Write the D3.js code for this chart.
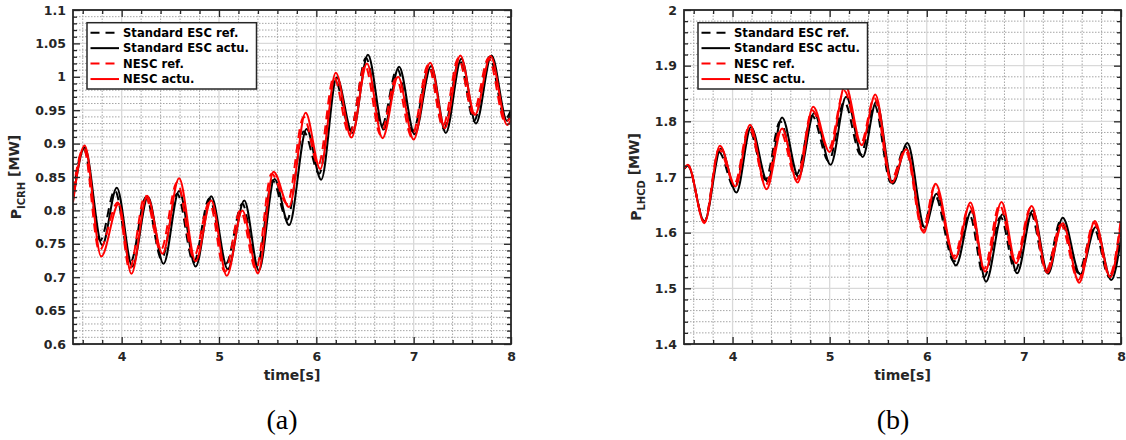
<!DOCTYPE html>
<html><head><meta charset="utf-8">
<script src="https://cdn.jsdelivr.net/npm/d3@7"></script>
<style>body{margin:0;background:#fff} svg{display:block}</style>
</head><body><svg id="c" width="1126" height="440"></svg>
<script>
// ---------- data ----------
const seriesNames = ["Standard ESC ref.", "Standard ESC actu.", "NESC ref.", "NESC actu."];
const xTicks = [4, 5, 6, 7, 8];

// (a) P_ICRH
const icrhYTicks = [0.6, 0.65, 0.7, 0.75, 0.8, 0.85, 0.9, 0.95, 1, 1.05, 1.1];
const icrhStdRefT = [3.5,3.61,3.78,3.93,4.09,4.25,4.41,4.57,4.74,4.9,5.07,5.24,5.39,5.55,5.70,5.87,6.03,6.19,6.35,6.51,6.67,6.83,6.99,7.16,7.31,7.47,7.62,7.78,7.94,8.0];
const icrhStdRefV = [0.825,0.892,0.755,0.83,0.722,0.82,0.727,0.825,0.722,0.818,0.72,0.81,0.717,0.845,0.786,0.918,0.855,0.996,0.92,1.028,0.926,1.012,0.918,1.014,0.922,1.025,0.934,1.03,0.937,0.95];
const icrhStdActT = [3.5,3.62,3.80,3.95,4.11,4.27,4.43,4.59,4.76,4.92,5.09,5.26,5.41,5.57,5.72,5.90,6.05,6.21,6.37,6.53,6.69,6.85,7.01,7.18,7.33,7.49,7.64,7.80,7.96,8.0];
const icrhStdActV = [0.815,0.894,0.748,0.834,0.716,0.82,0.72,0.829,0.716,0.821,0.712,0.815,0.71,0.847,0.778,0.922,0.846,0.999,0.916,1.033,0.921,1.015,0.914,1.016,0.916,1.027,0.93,1.032,0.934,0.945];
const icrhNescRefT = [3.5,3.61,3.77,3.96,4.08,4.24,4.40,4.57,4.74,4.9,5.06,5.22,5.38,5.54,5.70,5.87,6.02,6.18,6.34,6.50,6.66,6.82,6.98,7.15,7.30,7.46,7.61,7.77,7.94,8.0];
const icrhNescRefV = [0.83,0.893,0.74,0.812,0.712,0.822,0.74,0.842,0.73,0.812,0.708,0.8,0.712,0.855,0.81,0.94,0.868,1.0,0.913,1.017,0.913,0.998,0.91,1.018,0.926,1.028,0.945,1.028,0.932,0.94];
const icrhNescActT = [3.5,3.62,3.79,3.97,4.10,4.26,4.42,4.59,4.76,4.92,5.08,5.24,5.40,5.56,5.72,5.89,6.04,6.20,6.36,6.52,6.68,6.84,7.00,7.17,7.32,7.48,7.63,7.79,7.96,8.0];
const icrhNescActV = [0.812,0.897,0.731,0.81,0.705,0.822,0.735,0.848,0.724,0.815,0.702,0.80,0.706,0.858,0.805,0.946,0.862,1.006,0.909,1.02,0.908,1.0,0.906,1.021,0.923,1.032,0.943,1.031,0.928,0.935];

// (b) P_LHCD
const lhcdYTicks = [1.4, 1.5, 1.6, 1.7, 1.8, 1.9, 2];
const lhcdStdRefT = [3.5,3.54,3.71,3.86,4.02,4.17,4.34,4.49,4.66,4.82,4.99,5.15,5.32,5.46,5.63,5.78,5.96,6.08,6.28,6.44,6.59,6.76,6.91,7.07,7.23,7.38,7.56,7.72,7.88,8.0];
const lhcdStdRefV = [1.714,1.72,1.62,1.745,1.68,1.785,1.695,1.80,1.705,1.81,1.728,1.835,1.74,1.83,1.69,1.755,1.612,1.668,1.548,1.632,1.52,1.628,1.532,1.635,1.53,1.622,1.528,1.608,1.52,1.6];
const lhcdStdActT = [3.5,3.54,3.71,3.88,4.04,4.19,4.36,4.51,4.68,4.84,5.01,5.17,5.34,5.48,5.65,5.80,5.98,6.10,6.30,6.46,6.61,6.78,6.93,7.09,7.25,7.40,7.58,7.74,7.90,8.0];
const lhcdStdActV = [1.715,1.72,1.62,1.751,1.672,1.79,1.692,1.807,1.70,1.815,1.722,1.844,1.736,1.835,1.688,1.761,1.609,1.67,1.541,1.639,1.512,1.633,1.527,1.64,1.526,1.627,1.525,1.61,1.515,1.59];
const lhcdNescRefT = [3.5,3.54,3.71,3.86,4.02,4.17,4.34,4.49,4.66,4.82,4.99,5.15,5.32,5.46,5.63,5.78,5.96,6.08,6.28,6.44,6.59,6.75,6.91,7.07,7.23,7.38,7.56,7.72,7.88,8.0];
const lhcdNescRefV = [1.715,1.72,1.619,1.75,1.688,1.79,1.685,1.783,1.695,1.82,1.75,1.855,1.76,1.842,1.695,1.748,1.603,1.684,1.558,1.648,1.535,1.65,1.548,1.645,1.532,1.614,1.515,1.618,1.523,1.625];
const lhcdNescActT = [3.5,3.54,3.71,3.87,4.03,4.18,4.35,4.51,4.67,4.83,5.0,5.16,5.33,5.47,5.64,5.79,5.97,6.09,6.29,6.45,6.60,6.77,6.92,7.08,7.24,7.40,7.57,7.73,7.89,8.0];
const lhcdNescActV = [1.716,1.722,1.617,1.756,1.683,1.794,1.678,1.787,1.69,1.826,1.745,1.865,1.757,1.848,1.69,1.75,1.6,1.688,1.553,1.654,1.53,1.655,1.545,1.648,1.528,1.617,1.51,1.621,1.52,1.62];

// ---------- drawing ----------
const svg = d3.select("#c");
const AX = "#262626";
const styles = [
  {color: "#000", dash: "9,6"},
  {color: "#000", dash: null},
  {color: "#ff0000", dash: "9,6"},
  {color: "#ff0000", dash: null}
];

function fmt(v){ return String(+v.toFixed(2)); }

function panel(cfg){
  const g = svg.append("g");
  const x = d3.scaleLinear().domain([3.5, 8]).range([cfg.x0, cfg.x1]);
  const y = d3.scaleLinear().domain(cfg.yDomain).range([344, 10]);
  const xMinor = d3.range(36, 80, 2).map(d => d/10).filter(d => !xTicks.includes(d));
  const yMinor = d3.range(Math.round(cfg.yDomain[0]/cfg.yMinorStep), Math.round(cfg.yDomain[1]/cfg.yMinorStep)+1)
      .map(i => +(i*cfg.yMinorStep).toFixed(3)).filter(v => !cfg.yTicks.some(t => Math.abs(t-v) < 1e-6));

  // minor grid (dotted)
  g.append("g").selectAll("line").data(xMinor).join("line")
    .attr("x1", d => x(d)).attr("x2", d => x(d)).attr("y1", y.range()[0]).attr("y2", y.range()[1])
    .attr("stroke", "#a6a6a6").attr("stroke-width", 1).attr("stroke-dasharray", "1.5,1.5");
  g.append("g").selectAll("line").data(yMinor).join("line")
    .attr("y1", d => y(d)).attr("y2", d => y(d)).attr("x1", cfg.x0).attr("x2", cfg.x1)
    .attr("stroke", "#a6a6a6").attr("stroke-width", 1).attr("stroke-dasharray", "1.5,1.5");
  // major grid
  g.append("g").selectAll("line").data(xTicks).join("line")
    .attr("x1", d => x(d)).attr("x2", d => x(d)).attr("y1", y.range()[0]).attr("y2", y.range()[1])
    .attr("stroke", "#d9d9d9").attr("stroke-width", 1.3);
  g.append("g").selectAll("line").data(cfg.yTicks).join("line")
    .attr("y1", d => y(d)).attr("y2", d => y(d)).attr("x1", cfg.x0).attr("x2", cfg.x1)
    .attr("stroke", "#d9d9d9").attr("stroke-width", 1.3);

  // series
  const line = d3.line().x(d => x(d[0])).y(d => y(d[1])).curve(d3.curveMonotoneX);
  const clipId = "clip" + cfg.id;
  svg.append("clipPath").attr("id", clipId).append("rect")
    .attr("x", cfg.x0).attr("y", 10).attr("width", cfg.x1 - cfg.x0).attr("height", 334);
  const lg = g.append("g").attr("clip-path", `url(#${clipId})`);
  cfg.series.forEach((s, i) => {
    const pts = s[0].map((t, k) => [t, s[1][k]]);
    lg.append("path").datum(pts).attr("d", line)
      .attr("fill", "none").attr("stroke", styles[i].color).attr("stroke-width", 2)
      .attr("stroke-dasharray", styles[i].dash);
  });

  // axes with inward ticks on all four sides
  const font = (sel) => sel.selectAll("text").attr("font-family", "DejaVu Sans").attr("font-weight", "bold")
      .attr("font-size", 12.5).attr("fill", AX);
  const style = (sel) => { sel.select(".domain").remove(); sel.selectAll("line").attr("stroke", AX).attr("stroke-width", 1.3); };

  const bot = g.append("g").attr("transform", "translate(0,344)");
  bot.call(d3.axisBottom(x).tickValues(xTicks).tickSize(-7).tickPadding(8).tickFormat(d3.format("d"))).call(style).call(font);
  bot.append("g").call(d3.axisBottom(x).tickValues(xMinor).tickSize(-4).tickFormat("")).call(style);
  const top = g.append("g").attr("transform", "translate(0,10)");
  top.call(d3.axisTop(x).tickValues(xTicks).tickSize(-7).tickFormat("")).call(style);
  top.append("g").call(d3.axisTop(x).tickValues(xMinor).tickSize(-4).tickFormat("")).call(style);

  const left = g.append("g").attr("transform", `translate(${cfg.x0},0)`);
  left.call(d3.axisLeft(y).tickValues(cfg.yTicks).tickSize(-7).tickPadding(7).tickFormat(fmt)).call(style).call(font);
  left.append("g").call(d3.axisLeft(y).tickValues(yMinor).tickSize(-4).tickFormat("")).call(style);
  const right = g.append("g").attr("transform", `translate(${cfg.x1},0)`);
  right.call(d3.axisRight(y).tickValues(cfg.yTicks).tickSize(-7).tickFormat("")).call(style);
  right.append("g").call(d3.axisRight(y).tickValues(yMinor).tickSize(-4).tickFormat("")).call(style);

  // box
  g.append("rect").attr("x", cfg.x0).attr("y", 10).attr("width", cfg.x1 - cfg.x0).attr("height", 334)
    .attr("fill", "none").attr("stroke", AX).attr("stroke-width", 1.8);

  // legend
  const lx = cfg.x0 + 14, ly = 22.7;
  const leg = g.append("g");
  leg.append("rect").attr("x", lx).attr("y", ly).attr("width", 169.5).attr("height", 66.3)
    .attr("fill", "#fff").attr("stroke", AX).attr("stroke-width", 1.5);
  seriesNames.forEach((n, i) => {
    const yy = 32.7 + i * 15.45;
    leg.append("line").attr("x1", lx + 3.5).attr("x2", lx + 32).attr("y1", yy).attr("y2", yy)
      .attr("stroke", styles[i].color).attr("stroke-width", 2).attr("stroke-dasharray", styles[i].dash);
    leg.append("text").attr("x", lx + 36).attr("y", yy + 4.2).text(n)
      .attr("font-family", "DejaVu Sans").attr("font-weight", "bold").attr("font-size", 11.6).attr("fill", "#000");
  });

  // axis labels
  g.append("text").attr("x", (cfg.x0 + cfg.x1) / 2).attr("y", 380).attr("text-anchor", "middle")
    .attr("font-family", "DejaVu Sans").attr("font-weight", "bold").attr("font-size", 14).attr("fill", AX)
    .text("time[s]");
  const yl = g.append("text").attr("transform", `translate(${cfg.ylabX},177) rotate(-90)`)
    .attr("text-anchor", "middle").attr("font-family", "DejaVu Sans").attr("font-weight", "bold")
    .attr("font-size", 14).attr("fill", AX);
  yl.append("tspan").text("P");
  yl.append("tspan").attr("font-size", 10).attr("dy", 4).text(cfg.sub);
  yl.append("tspan").attr("dy", -6).text(" [MW]");

  // caption
  svg.append("text").attr("x", cfg.capX).attr("y", 429).attr("text-anchor", "middle")
    .attr("font-family", "Liberation Serif").attr("font-size", 28).attr("fill", "#000").text(cfg.cap);
}

panel({id: "a", x0: 73, x1: 511, yDomain: [0.6, 1.1], yTicks: icrhYTicks, yMinorStep: 0.01,
  series: [[icrhStdRefT, icrhStdRefV], [icrhStdActT, icrhStdActV], [icrhNescRefT, icrhNescRefV], [icrhNescActT, icrhNescActV]],
  ylabX: 21, sub: "ICRH", cap: "(a)", capX: 282});
panel({id: "b", x0: 684, x1: 1121, yDomain: [1.4, 2], yTicks: lhcdYTicks, yMinorStep: 0.02,
  series: [[lhcdStdRefT, lhcdStdRefV], [lhcdStdActT, lhcdStdActV], [lhcdNescRefT, lhcdNescRefV], [lhcdNescActT, lhcdNescActV]],
  ylabX: 641, sub: "LHCD", cap: "(b)", capX: 893});
</script></body></html>
